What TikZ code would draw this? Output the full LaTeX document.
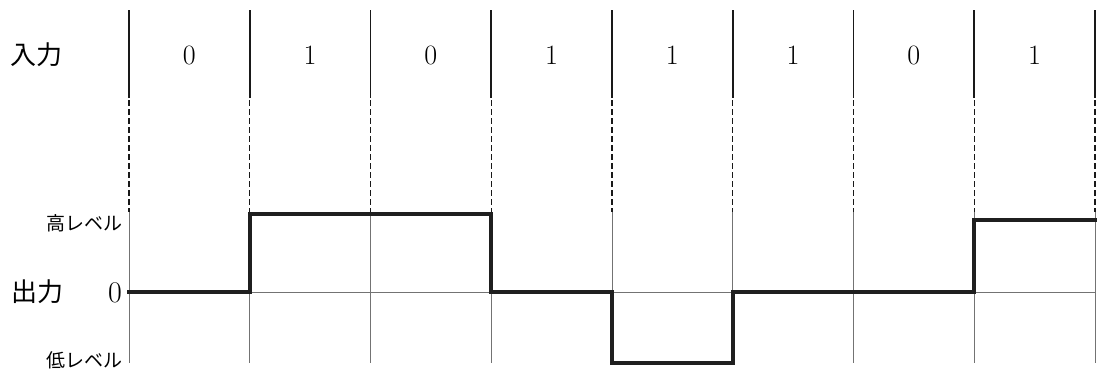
\documentclass[tikz,border=0pt]{standalone}
\usepackage{fontspec}
\newfontfamily\jpfont{Noto Sans CJK JP}
\begin{document}
\begin{tikzpicture}[x=1pt,y=-1pt,
  topline/.style={line width=1.6pt,draw=black!90},
  dashline/.style={line width=1.4pt,draw=black!90,dash pattern=on 6pt off 3pt},
  gridline/.style={line width=0.9pt,draw=black!55},
  signal/.style={line width=4pt,draw=black!88,line join=miter,line cap=rect},
  bigjp/.style={font=\jpfont\fontsize{26}{26}\selectfont,inner sep=0pt},
  smalljp/.style={font=\jpfont\fontsize{19}{19}\selectfont,inner sep=0pt,anchor=east},
  digit/.style={font=\fontsize{28}{28}\selectfont,inner sep=0pt}]
\useasboundingbox (0,0) rectangle (1097,372);
% zero axis
\draw[gridline] (129,292) -- (1095,292);
% vertical lines
\foreach \i in {0,...,8}{
  \pgfmathsetmacro{\xx}{129+120.75*\i}
  \draw[topline] (\xx,10) -- (\xx,98);
  \draw[dashline] (\xx,100) -- (\xx,212);
  \draw[gridline] (\xx,212) -- (\xx,363);
}
% input bits
\foreach \b [count=\i from 0] in {0,1,0,1,1,1,0,1}{
  \pgfmathsetmacro{\xx}{129+120.75*\i+60.375}
  \node[digit] (bit\i) at (\xx,55) {\b};
}
% labels
\node[bigjp] (in) at (36,55) {入力};
\node[bigjp] (out) at (37,292) {出力};
\node[digit,font=\fontsize{30}{30}\selectfont] (zero) at (115,293) {0};
\node[smalljp] (hi) at (123,223) {高レベル};
\node[smalljp] (lo) at (123,360) {低レベル};
% signal
\draw[signal] (129,292) -- (249.75,292) -- (249.75,214) -- (491.25,214)
  -- (491.25,292) -- (612,292) -- (612,363) -- (732.75,363) -- (732.75,292)
  -- (974.25,292) -- (974.25,220) -- (1095,220);
\end{tikzpicture}
\end{document}
